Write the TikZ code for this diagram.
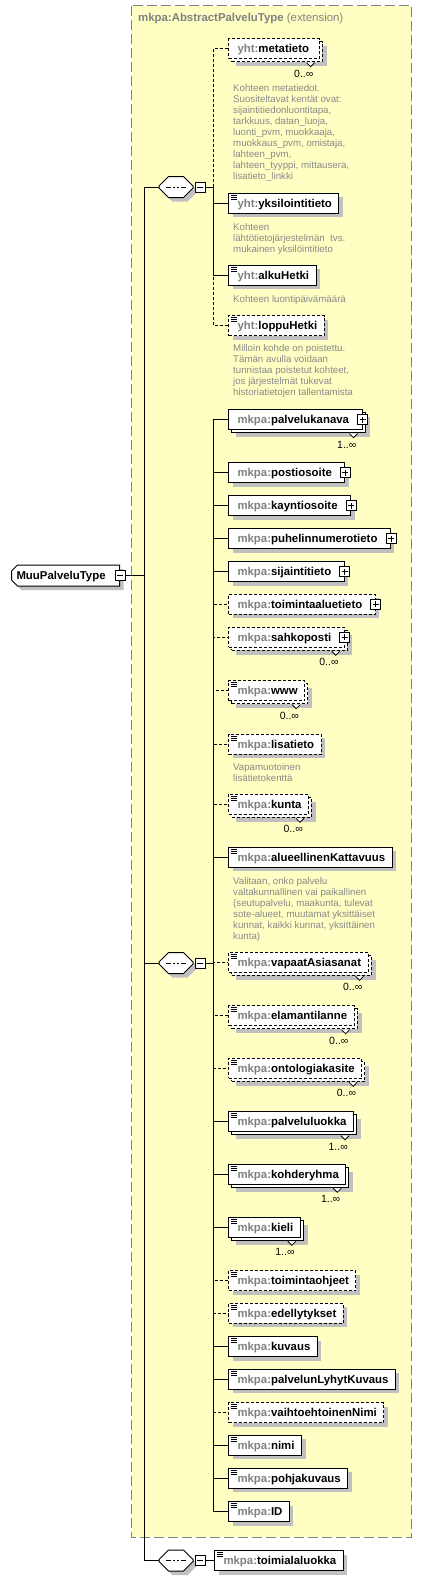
\documentclass[tikz,border=0pt]{standalone}
\usepackage{fontspec}
\setmainfont{Liberation Sans}
\usetikzlibrary{positioning,shadows,shapes.misc}

\definecolor{extfill}{RGB}{255,255,196}
\definecolor{extline}{RGB}{128,128,128}
\definecolor{shadowgray}{RGB}{192,192,192}
\definecolor{pfxgray}{RGB}{128,128,128}
\definecolor{descgray}{RGB}{136,136,136}

%element label: grey prefix, black name
\newcommand{\el}[3][7pt]{\hspace*{9pt}{\color{pfxgray}#2:}#3\hspace*{#1}}
%empty body that gives a sequence compositor its size
\newcommand{\seqbody}{\rule{0pt}{11pt}\hspace*{25pt}}
%occurrence marker and label under a repeated element
\newcommand{\occurs}[2]{%
    \draw[line width=0.8pt, solid, fill=white] ([xshift=-13pt,yshift=-3.5pt]#1.south east) -- ++(4pt,-4pt) -- ++(4pt,4pt);
    \node[mult, below left=10.5pt and 6pt of #1.south east] {#2};}

\tikzset{
    %connectors
    req/.style={
           line width=1pt},
    opt/.style={
           line width=1pt,
           dash pattern=on 3pt off 2pt},
    %extension frame and its caption
    ext/.style={
           draw=extline, fill=extfill,
           line width=1pt,
           dash pattern=on 10pt off 4pt},
    caption/.style={
           anchor=west,
           inner sep=0pt,
           text=pfxgray,
           font=\fontsize{11.4}{13}\selectfont},
    %element boxes
    elem/.style={
           rectangle,
           draw=black, line width=1pt,
           fill=white,
           anchor=west,
           inner sep=0pt,
           minimum height=20pt,
           text height=8.2pt, text depth=0pt,
           font=\fontsize{11.4}{13}\selectfont\bfseries},
    optional/.style={
           dash pattern=on 3pt off 2pt},
    single/.style={
           drop shadow={shadow xshift=4pt, shadow yshift=-4pt, fill=shadowgray, opacity=1}},
    many/.style={
           drop shadow={shadow xshift=7.5pt, shadow yshift=-7.5pt, fill=shadowgray, opacity=1},
           copy shadow={shadow xshift=3pt, shadow yshift=-3pt, draw=black, fill=white}},
    simple/.style={
           path picture={
              \foreach \d in {2pt,4pt,6pt}
                 \draw[line width=0.8pt, solid] ([xshift=2pt, yshift=-\d]path picture bounding box.north west) -- ++(6pt,0pt);}},
    %root type and sequence compositors
    root/.style={
           chamfered rectangle,
           chamfered rectangle corners={north west,south west},
           chamfered rectangle xsep=3pt,
           chamfered rectangle ysep=3pt,
           draw=black, line width=1pt,
           fill=white,
           anchor=west,
           inner sep=0pt,
           minimum height=21pt,
           text height=8.2pt, text depth=0pt,
           font=\fontsize{11.4}{13}\selectfont\bfseries,
           single},
    seq/.style={
           chamfered rectangle,
           chamfered rectangle xsep=4.5pt,
           chamfered rectangle ysep=5pt,
           draw=black, line width=1pt,
           fill=white,
           inner sep=0pt,
           single,
           path picture={
              \draw[line width=1pt] ([xshift=-10pt]path picture bounding box.center) -- ([xshift=10pt]path picture bounding box.center);
              \foreach \d in {-4pt,0pt,4pt}
                 \fill ([xshift=\d]path picture bounding box.center) +(-1.3pt,-1.3pt) rectangle +(1.3pt,1.3pt);}},
    %expand and collapse buttons
    plusbox/.style={
           rectangle,
           draw=black, line width=0.8pt, solid,
           fill=white,
           inner sep=0pt,
           minimum size=10pt,
           path picture={
              \draw[line width=0.8pt] ([xshift=-3pt]path picture bounding box.center) -- ([xshift=3pt]path picture bounding box.center)
                    ([yshift=-3pt]path picture bounding box.center) -- ([yshift=3pt]path picture bounding box.center);}},
    minusbox/.style={
           rectangle,
           draw=black, line width=0.8pt,
           fill=white,
           inner sep=0pt,
           minimum size=10pt,
           path picture={
              \draw[line width=0.8pt] ([xshift=-3pt]path picture bounding box.center) -- ([xshift=3pt]path picture bounding box.center);}},
    %texts under elements
    desc/.style={
           anchor=north west,
           inner sep=0pt,
           align=left,
           text=descgray,
           font=\fontsize{9.7}{11}\selectfont},
    mult/.style={
           inner sep=0pt,
           font=\fontsize{10.5}{12}\selectfont}
}

\begin{document}
\begin{tikzpicture}[x=1pt, y=-1pt]
 \useasboundingbox (0,0) rectangle (422,1580);
 %extension frame
    \draw[ext] (131.5,5.5) rectangle (411.5,1537);
    \node[caption] (exttitle) at (138,19) {\textbf{mkpa:AbstractPalveluType} (extension)};
 %nodes
    \node[root] (muu) at (11,575.5) {\hspace*{2pt}MuuPalveluType\hspace*{11pt}};
    \node[minusbox] (muum) at (muu.east) {};
    \node[seq] (seqA) at (176,187) {\seqbody};
    \node[minusbox, right=1pt of seqA] (seqAm) {};
    \node[seq] (seqB) at (176,963) {\seqbody};
    \node[minusbox, right=1pt of seqB] (seqBm) {};
    \node[seq] (seqC) at (176,1560.5) {\seqbody};
    \node[minusbox, right=1pt of seqC] (seqCm) {};
 %first sequence
    \node[elem, optional, many] (meta) at (228,48.7) {\el[10pt]{yht}{metatieto}};
    \occurs{meta}{0..∞}
    \node[desc, below right=25pt and 5pt of meta.south west] (metadesc) {Kohteen metatiedot.\\Suositeltavat kentät ovat:\\sijaintitiedonluontitapa,\\tarkkuus, datan\_luoja,\\luonti\_pvm, muokkaaja,\\muokkaus\_pvm, omistaja,\\lahteen\_pvm,\\lahteen\_tyyppi, mittausera,\\lisatieto\_linkki};
    \node[elem, simple, single] (yksi) at (228,203.3) {\el{yht}{yksilointitieto}};
    \node[desc, below right=9.5pt and 5pt of yksi.south west] (yksidesc) {Kohteen\\lähtötietojärjestelmän\ \ tvs.\\mukainen yksilöintitieto};
    \node[elem, simple, single] (alku) at (228,275.3) {\el{yht}{alkuHetki}};
    \node[desc, below right=9pt and 5pt of alku.south west] (alkudesc) {Kohteen luontipäivämäärä};
    \node[elem, optional, simple, single] (loppu) at (228,325.5) {\el{yht}{loppuHetki}};
    \node[desc, below right=8pt and 5pt of loppu.south west] (loppudesc) {Milloin kohde on poistettu.\\Tämän avulla voidaan\\tunnistaa poistetut kohteet,\\jos järjestelmät tukevat\\historiatietojen tallentamista};
 %second sequence
    \node[elem, many] (kanava) at (228,419.7) {\el[13pt]{mkpa}{palvelukanava}};
    \node[plusbox] (kanavap) at (kanava.east) {};
    \occurs{kanava}{1..∞}
    \node[elem, single] (posti) at (228,472.7) {\el[13pt]{mkpa}{postiosoite}};
    \node[plusbox] (postip) at (posti.east) {};
    \node[elem, single] (kaynti) at (228,505.7) {\el[13pt]{mkpa}{kayntiosoite}};
    \node[plusbox] (kayntip) at (kaynti.east) {};
    \node[elem, single] (puhelin) at (228,538.7) {\el[13pt]{mkpa}{puhelinnumerotieto}};
    \node[plusbox] (puhelinp) at (puhelin.east) {};
    \node[elem, single] (sijainti) at (228,571.7) {\el[13pt]{mkpa}{sijaintitieto}};
    \node[plusbox] (sijaintip) at (sijainti.east) {};
    \node[elem, optional, single] (toiminta) at (228,604.3) {\el[13pt]{mkpa}{toimintaaluetieto}};
    \node[plusbox] (toimintap) at (toiminta.east) {};
    \node[elem, optional, many] (sahko) at (228,637.3) {\el[13pt]{mkpa}{sahkoposti}};
    \node[plusbox] (sahkop) at (sahko.east) {};
    \occurs{sahko}{0..∞}
    \node[elem, optional, simple, many] (www) at (228,690.7) {\el{mkpa}{www}};
    \occurs{www}{0..∞}
    \node[elem, optional, simple, single] (lisa) at (228,744) {\el{mkpa}{lisatieto}};
    \node[desc, below right=9pt and 5pt of lisa.south west] (lisadesc) {Vapamuotoinen\\lisätietokenttä};
    \node[elem, optional, simple, many] (kunta) at (228,804.3) {\el{mkpa}{kunta}};
    \occurs{kunta}{0..∞}
    \node[elem, simple, single] (alue) at (228,857.3) {\el{mkpa}{alueellinenKattavuus}};
    \node[desc, below right=9pt and 5pt of alue.south west] (aluedesc) {Valitaan, onko palvelu\\valtakunnallinen vai paikallinen\\(seutupalvelu, maakunta, tulevat\\sote-alueet, muutamat yksittäiset\\kunnat, kaikki kunnat, yksittäinen\\kunta)};
    \node[elem, optional, simple, many] (vapaat) at (228,962.3) {\el{mkpa}{vapaatAsiasanat}};
    \occurs{vapaat}{0..∞}
    \node[elem, optional, simple, many] (elama) at (228,1015.7) {\el{mkpa}{elamantilanne}};
    \occurs{elama}{0..∞}
    \node[elem, optional, simple, many] (onto) at (228,1068.3) {\el{mkpa}{ontologiakasite}};
    \occurs{onto}{0..∞}
    \node[elem, simple, many] (pluokka) at (228,1121.7) {\el{mkpa}{palveluluokka}};
    \occurs{pluokka}{1..∞}
    \node[elem, simple, many] (kohde) at (228,1174.3) {\el{mkpa}{kohderyhma}};
    \occurs{kohde}{1..∞}
    \node[elem, simple, many] (kieli) at (228,1227.3) {\el{mkpa}{kieli}};
    \occurs{kieli}{1..∞}
    \node[elem, optional, simple, single] (ohjeet) at (228,1280.7) {\el{mkpa}{toimintaohjeet}};
    \node[elem, optional, simple, single] (edell) at (228,1313.3) {\el{mkpa}{edellytykset}};
    \node[elem, simple, single] (kuvaus) at (228,1346.7) {\el{mkpa}{kuvaus}};
    \node[elem, simple, single] (lyhyt) at (228,1379.3) {\el{mkpa}{palvelunLyhytKuvaus}};
    \node[elem, optional, simple, single] (vaiht) at (228,1412.7) {\el{mkpa}{vaihtoehtoinenNimi}};
    \node[elem, simple, single] (nimi) at (228,1445.3) {\el{mkpa}{nimi}};
    \node[elem, simple, single] (pohja) at (228,1478.3) {\el{mkpa}{pohjakuvaus}};
    \node[elem, simple, single] (id) at (228,1511.7) {\el{mkpa}{ID}};
 %third sequence
    \node[elem, simple, single] (toimiala) at (214,1560.5) {\el{mkpa}{toimialaluokka}};
 %edges
    \coordinate (trunk) at (144,575.5);
    \coordinate (brA) at (213,187);
    \coordinate (brB) at (213,963);
    \draw[req] (muum.east) -- (trunk);
    \draw[req] (trunk) |- (seqA.west);
    \draw[req] (trunk) |- (seqB.west);
    \draw[req] (trunk) |- (seqC.west);
    \draw[req] (seqAm.east) -- (brA);
    \draw[opt] (brA) |- (meta.west);
    \draw[opt] (brA) |- (loppu.west);
    \draw[req] (brA) |- (yksi.west);
    \draw[req] (brA) |- (alku.west);
    \draw[req] (seqBm.east) -- (brB);
    \draw[opt] (brB) |- (toiminta.west);
    \draw[opt] (brB) |- (sahko.west);
    \draw[opt] (brB) |- (www.west);
    \draw[opt] (brB) |- (lisa.west);
    \draw[opt] (brB) |- (kunta.west);
    \draw[opt] (brB) |- (vapaat.west);
    \draw[opt] (brB) |- (elama.west);
    \draw[opt] (brB) |- (onto.west);
    \draw[opt] (brB) |- (ohjeet.west);
    \draw[opt] (brB) |- (edell.west);
    \draw[opt] (brB) |- (vaiht.west);
    \draw[req] (brB) |- (kanava.west);
    \draw[req] (brB) |- (posti.west);
    \draw[req] (brB) |- (kaynti.west);
    \draw[req] (brB) |- (puhelin.west);
    \draw[req] (brB) |- (sijainti.west);
    \draw[req] (brB) |- (alue.west);
    \draw[req] (brB) |- (pluokka.west);
    \draw[req] (brB) |- (kohde.west);
    \draw[req] (brB) |- (kieli.west);
    \draw[req] (brB) |- (kuvaus.west);
    \draw[req] (brB) |- (lyhyt.west);
    \draw[req] (brB) |- (nimi.west);
    \draw[req] (brB) |- (pohja.west);
    \draw[req] (brB) |- (id.west);
    \draw[req] (seqCm.east) -- (toimiala.west);
\end{tikzpicture}
\end{document}
